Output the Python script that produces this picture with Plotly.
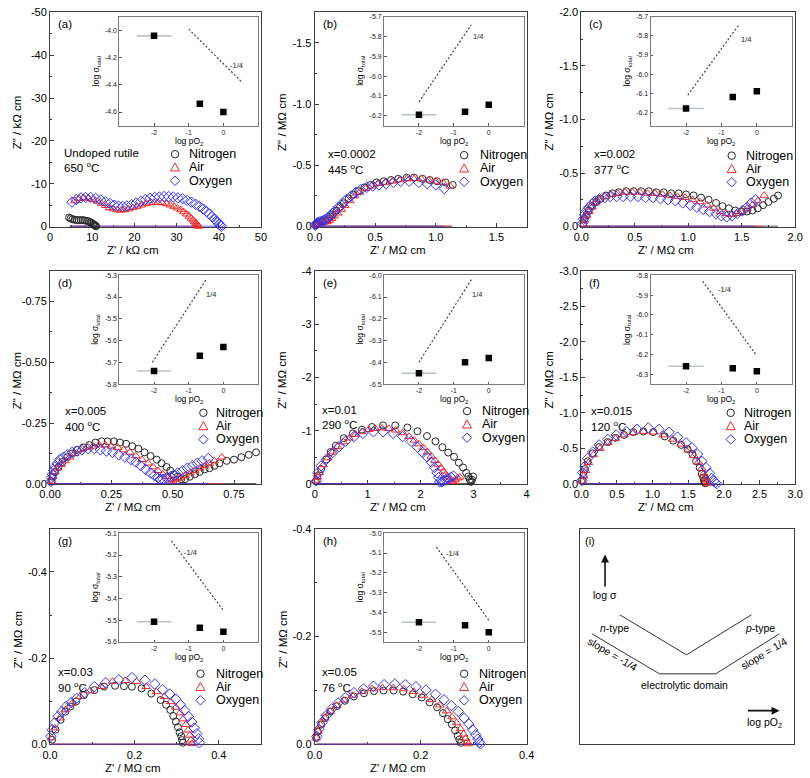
import math
import plotly.graph_objects as go

W, H = 810, 778
FONT = "Liberation Sans, Arial, Helvetica, sans-serif"

# ---------------- impedance data: Z' (x) and Z'' (y) ----------------
A_N_X = [4.5, 4.9, 5.3, 5.8, 6.3, 6.8, 7.3, 7.8, 8.3, 8.8, 9.2, 9.6, 9.9, 10.2, 10.4, 10.6, 10.8, 10.9]
A_N_Y = [-2.1, -1.9, -1.7, -1.6, -1.5, -1.5, -1.5, -1.5, -1.4, -1.3, -1.2, -1.0, -0.8, -0.6, -0.45, -0.3, -0.15, -0.05]
A_AIR_X = [5.9, 6.9, 8.0, 9.1, 10.2, 11.2, 12.2, 13.2, 14.1, 15.0, 15.9, 16.8, 17.7, 18.6, 19.6, 20.6, 21.6, 22.6, 23.6,
           24.6, 25.6, 26.6, 27.6, 28.5, 29.4, 30.2, 31.0, 31.7, 32.4, 33.0, 33.5, 33.9, 34.3, 34.6, 34.8, 35.0, 35.1, 35.2]
A_AIR_Y = [-6.0, -6.5, -6.7, -6.6, -6.3, -5.9, -5.4, -4.9, -4.4, -4.1, -3.9, -3.8, -3.9, -4.1, -4.4, -4.7, -5.0, -5.3, -5.5,
           -5.6, -5.6, -5.5, -5.3, -5.0, -4.7, -4.3, -3.9, -3.4, -2.9, -2.4, -1.9, -1.5, -1.1, -0.8, -0.5, -0.3, -0.15, -0.05]
A_OX_X = [5.2, 6.2, 7.3, 8.4, 9.6, 10.8, 12.0, 13.1, 14.2, 15.2, 16.2, 17.2, 18.2, 19.3, 20.4, 21.5, 22.6, 23.7, 24.8, 25.9,
          27.0, 28.1, 29.2, 30.3, 31.4, 32.5, 33.5, 34.5, 35.4, 36.3, 37.1, 37.8, 38.4, 38.9, 39.4, 39.8, 40.1, 40.4, 40.6]
A_OX_Y = [-5.7, -6.3, -6.7, -6.8, -6.8, -6.6, -6.2, -5.8, -5.4, -5.0, -4.8, -4.7, -4.8, -5.1, -5.5, -5.9, -6.3, -6.6, -6.8, -6.9,
          -7.0, -7.0, -6.9, -6.7, -6.5, -6.1, -5.7, -5.2, -4.7, -4.1, -3.5, -2.9, -2.3, -1.8, -1.3, -0.9, -0.5, -0.25, -0.05]

B_N_X = [0.01, 0.02, 0.03, 0.05, 0.07, 0.09, 0.11, 0.13, 0.15, 0.18, 0.21, 0.24, 0.28, 0.32, 0.36, 0.41, 0.46, 0.51, 0.57,
         0.63, 0.69, 0.76, 0.82, 0.89, 0.95, 1.01, 1.08, 1.14]
B_N_Y = [-0.01, -0.02, -0.03, -0.035, -0.04, -0.05, -0.06, -0.08, -0.10, -0.13, -0.16, -0.19, -0.23, -0.26, -0.29, -0.32,
         -0.34, -0.36, -0.37, -0.38, -0.39, -0.40, -0.40, -0.39, -0.38, -0.37, -0.36, -0.34]
B_AIR_X = [0.01, 0.02, 0.04, 0.06, 0.08, 0.10, 0.12, 0.14, 0.16, 0.19, 0.22, 0.25, 0.29, 0.33, 0.37, 0.42, 0.47, 0.52, 0.58,
           0.64, 0.70, 0.76, 0.82, 0.88, 0.94, 1.00, 1.06, 1.12]
B_AIR_Y = [-0.01, -0.02, -0.025, -0.03, -0.035, -0.04, -0.05, -0.065, -0.085, -0.11, -0.14, -0.17, -0.21, -0.25, -0.28,
           -0.31, -0.33, -0.35, -0.36, -0.37, -0.38, -0.39, -0.39, -0.39, -0.38, -0.37, -0.36, -0.33]
B_OX_X = [0.005, 0.01, 0.02, 0.03, 0.045, 0.06, 0.075, 0.09, 0.11, 0.13, 0.15, 0.17, 0.20, 0.23, 0.26, 0.30, 0.34, 0.38,
          0.43, 0.48, 0.53, 0.59, 0.65, 0.71, 0.78, 0.86, 0.93, 1.00, 1.07]
B_OX_Y = [-0.01, -0.02, -0.03, -0.035, -0.04, -0.045, -0.05, -0.06, -0.075, -0.09, -0.11, -0.13, -0.16, -0.19, -0.22,
          -0.25, -0.28, -0.30, -0.32, -0.33, -0.34, -0.35, -0.36, -0.37, -0.37, -0.36, -0.35, -0.34, -0.31]

C_N_X = [0.02, 0.03, 0.05, 0.07, 0.10, 0.14, 0.18, 0.23, 0.29, 0.35, 0.42, 0.49, 0.56, 0.63, 0.70, 0.77, 0.84, 0.91, 0.98,
         1.05, 1.12, 1.19, 1.26, 1.32, 1.38, 1.44, 1.50, 1.55, 1.60, 1.65, 1.70, 1.75, 1.80, 1.84]
C_N_Y = [-0.03, -0.07, -0.11, -0.15, -0.19, -0.23, -0.26, -0.29, -0.31, -0.32, -0.33, -0.33, -0.33, -0.33, -0.32, -0.32,
         -0.31, -0.31, -0.30, -0.29, -0.27, -0.25, -0.22, -0.19, -0.17, -0.15, -0.14, -0.14, -0.15, -0.17, -0.20, -0.23,
         -0.26, -0.29]
C_AIR_X = [0.02, 0.03, 0.05, 0.07, 0.10, 0.13, 0.17, 0.22, 0.28, 0.34, 0.41, 0.48, 0.55, 0.62, 0.69, 0.76, 0.83, 0.90,
           0.97, 1.04, 1.11, 1.18, 1.24, 1.30, 1.35, 1.40, 1.45, 1.50, 1.55, 1.60, 1.65, 1.71]
C_AIR_Y = [-0.02, -0.06, -0.10, -0.14, -0.18, -0.22, -0.25, -0.28, -0.30, -0.31, -0.32, -0.32, -0.32, -0.31, -0.31, -0.30,
           -0.29, -0.28, -0.27, -0.25, -0.23, -0.20, -0.17, -0.14, -0.12, -0.11, -0.12, -0.14, -0.17, -0.20, -0.24, -0.29]
C_OX_X = [0.01, 0.02, 0.03, 0.05, 0.07, 0.10, 0.13, 0.17, 0.22, 0.27, 0.33, 0.39, 0.46, 0.53, 0.60, 0.67, 0.74, 0.81,
          0.88, 0.95, 1.02, 1.08, 1.14, 1.20, 1.26, 1.31, 1.36, 1.41, 1.46, 1.51, 1.55, 1.59, 1.63]
C_OX_Y = [-0.03, -0.07, -0.11, -0.15, -0.18, -0.21, -0.24, -0.26, -0.27, -0.28, -0.28, -0.28, -0.28, -0.28, -0.27, -0.27,
          -0.26, -0.25, -0.24, -0.22, -0.20, -0.18, -0.16, -0.14, -0.12, -0.10, -0.09, -0.10, -0.12, -0.15, -0.18, -0.22,
          -0.25]

D_N_X = [0.005, 0.01, 0.02, 0.035, 0.05, 0.07, 0.09, 0.11, 0.135, 0.16, 0.185, 0.21, 0.235, 0.26, 0.285, 0.31, 0.335,
         0.36, 0.385, 0.41, 0.435, 0.455, 0.475, 0.49, 0.505, 0.52, 0.535, 0.55, 0.57, 0.59, 0.61, 0.63, 0.65, 0.67,
         0.69, 0.72, 0.75, 0.78, 0.81, 0.84]
D_N_Y = [-0.01, -0.03, -0.05, -0.07, -0.09, -0.11, -0.125, -0.14, -0.15, -0.16, -0.17, -0.175, -0.175, -0.175, -0.17,
         -0.165, -0.155, -0.145, -0.13, -0.115, -0.10, -0.085, -0.07, -0.055, -0.04, -0.03, -0.02, -0.02, -0.03, -0.04,
         -0.05, -0.06, -0.065, -0.075, -0.085, -0.095, -0.10, -0.11, -0.12, -0.13]
D_AIR_X = [0.005, 0.01, 0.02, 0.03, 0.045, 0.06, 0.08, 0.10, 0.125, 0.15, 0.175, 0.20, 0.225, 0.25, 0.275, 0.30, 0.325,
           0.35, 0.375, 0.40, 0.42, 0.44, 0.46, 0.475, 0.49, 0.50, 0.515, 0.53, 0.55, 0.57, 0.59, 0.61, 0.63, 0.65,
           0.67, 0.70]
D_AIR_Y = [-0.01, -0.03, -0.05, -0.065, -0.08, -0.095, -0.11, -0.125, -0.14, -0.15, -0.155, -0.16, -0.16, -0.155,
           -0.15, -0.14, -0.13, -0.115, -0.10, -0.085, -0.07, -0.055, -0.04, -0.03, -0.02, -0.015, -0.02, -0.025,
           -0.035, -0.045, -0.055, -0.065, -0.075, -0.085, -0.095, -0.11]
D_OX_X = [0.003, 0.006, 0.01, 0.015, 0.02, 0.03, 0.04, 0.055, 0.07, 0.09, 0.11, 0.13, 0.155, 0.18, 0.205, 0.23, 0.255,
          0.28, 0.305, 0.33, 0.35, 0.37, 0.39, 0.41, 0.425, 0.44, 0.45, 0.46, 0.475, 0.49, 0.505, 0.52, 0.54, 0.56,
          0.58, 0.60, 0.62, 0.645]
D_OX_Y = [-0.01, -0.025, -0.04, -0.055, -0.07, -0.085, -0.10, -0.11, -0.12, -0.13, -0.135, -0.14, -0.145, -0.145,
          -0.14, -0.135, -0.13, -0.12, -0.11, -0.10, -0.09, -0.075, -0.06, -0.045, -0.035, -0.025, -0.02, -0.02, -0.025,
          -0.03, -0.035, -0.045, -0.055, -0.065, -0.075, -0.085, -0.095, -0.105]

E_N_X = [0.02, 0.05, 0.12, 0.22, 0.30, 0.40, 0.55, 0.72, 0.89, 1.08, 1.29, 1.52, 1.75, 1.94, 2.12, 2.28, 2.41, 2.52,
         2.63, 2.72, 2.80, 2.86, 2.90, 2.93, 2.95, 2.97, 2.99]
E_N_Y = [-0.05, -0.15, -0.28, -0.46, -0.60, -0.72, -0.86, -0.95, -1.02, -1.07, -1.10, -1.10, -1.06, -0.99, -0.90, -0.80,
         -0.69, -0.59, -0.51, -0.40, -0.31, -0.21, -0.14, -0.08, -0.04, -0.08, -0.14]
E_AIR_X = [0.02, 0.05, 0.09, 0.16, 0.25, 0.34, 0.43, 0.54, 0.65, 0.77, 0.89, 1.02, 1.14, 1.27, 1.40, 1.53, 1.66, 1.78,
           1.88, 1.97, 2.05, 2.13, 2.20, 2.27, 2.33, 2.38, 2.43, 2.47, 2.51, 2.54, 2.57, 2.60, 2.65, 2.70, 2.74]
E_AIR_Y = [-0.06, -0.13, -0.21, -0.36, -0.49, -0.60, -0.70, -0.79, -0.86, -0.93, -0.98, -1.02, -1.04, -1.05, -1.04,
           -1.01, -0.96, -0.89, -0.82, -0.75, -0.68, -0.60, -0.52, -0.44, -0.37, -0.30, -0.24, -0.18, -0.13, -0.08,
           -0.05, -0.05, -0.08, -0.11, -0.13]
E_OX_X = [0.03, 0.06, 0.12, 0.22, 0.34, 0.46, 0.58, 0.74, 0.91, 1.11, 1.29, 1.48, 1.66, 1.82, 1.94, 2.04, 2.12, 2.20,
          2.26, 2.31, 2.34, 2.36, 2.40, 2.43, 2.47, 2.52, 2.57, 2.62]
E_OX_Y = [-0.06, -0.21, -0.34, -0.46, -0.59, -0.70, -0.80, -0.89, -0.95, -0.98, -0.98, -0.95, -0.89, -0.80, -0.69,
          -0.59, -0.51, -0.41, -0.31, -0.21, -0.12, -0.04, -0.04, -0.06, -0.08, -0.10, -0.13, -0.15]

F_N_X = [0.01, 0.03, 0.05, 0.09, 0.16, 0.25, 0.37, 0.48, 0.60, 0.73, 0.87, 1.01, 1.17, 1.29, 1.40, 1.49, 1.56, 1.61,
         1.66, 1.69, 1.71, 1.72, 1.73, 1.74]
F_N_Y = [-0.05, -0.12, -0.21, -0.32, -0.43, -0.52, -0.59, -0.65, -0.69, -0.73, -0.74, -0.73, -0.67, -0.61, -0.55, -0.49,
         -0.42, -0.32, -0.23, -0.14, -0.09, -0.05, -0.03, -0.01]
F_AIR_X = [0.01, 0.03, 0.06, 0.10, 0.17, 0.26, 0.37, 0.48, 0.60, 0.73, 0.87, 1.01, 1.15, 1.28, 1.40, 1.50, 1.58, 1.64,
           1.69, 1.72, 1.74, 1.76, 1.77, 1.78]
F_AIR_Y = [-0.04, -0.11, -0.19, -0.30, -0.41, -0.50, -0.58, -0.64, -0.69, -0.72, -0.74, -0.73, -0.69, -0.63, -0.56,
           -0.48, -0.40, -0.31, -0.22, -0.15, -0.10, -0.06, -0.03, -0.01]
F_OX_X = [0.01, 0.02, 0.05, 0.09, 0.16, 0.25, 0.37, 0.49, 0.63, 0.78, 0.94, 1.09, 1.23, 1.35, 1.47, 1.55, 1.63, 1.69,
          1.75, 1.80, 1.83, 1.86, 1.88, 1.90]
F_OX_Y = [-0.05, -0.16, -0.25, -0.36, -0.45, -0.55, -0.63, -0.69, -0.74, -0.77, -0.79, -0.77, -0.73, -0.66, -0.58,
          -0.51, -0.42, -0.32, -0.23, -0.15, -0.08, -0.04, -0.02, -0.005]

G_N_X = [0.005, 0.013, 0.025, 0.036, 0.048, 0.062, 0.080, 0.105, 0.128, 0.154, 0.175, 0.194, 0.217, 0.240, 0.262,
         0.275, 0.285, 0.292, 0.298, 0.303, 0.307, 0.311, 0.313, 0.315]
G_N_Y = [-0.011, -0.034, -0.057, -0.076, -0.088, -0.100, -0.114, -0.126, -0.134, -0.136, -0.135, -0.134, -0.130,
         -0.118, -0.103, -0.092, -0.080, -0.066, -0.053, -0.040, -0.028, -0.019, -0.010, -0.004]
G_AIR_X = [0.003, 0.011, 0.023, 0.036, 0.052, 0.071, 0.094, 0.121, 0.148, 0.178, 0.205, 0.228, 0.252, 0.271, 0.286,
           0.298, 0.308, 0.315, 0.322, 0.327, 0.331, 0.334, 0.336]
G_AIR_Y = [-0.015, -0.038, -0.061, -0.080, -0.095, -0.111, -0.124, -0.134, -0.146, -0.148, -0.146, -0.134, -0.122,
           -0.111, -0.099, -0.086, -0.073, -0.059, -0.046, -0.033, -0.021, -0.010, -0.002]
G_OX_X = [0.002, 0.005, 0.011, 0.019, 0.028, 0.038, 0.050, 0.063, 0.082, 0.105, 0.132, 0.163, 0.194, 0.225, 0.248,
          0.267, 0.284, 0.298, 0.309, 0.319, 0.328, 0.336, 0.342, 0.348, 0.352, 0.354]
G_OX_Y = [-0.019, -0.034, -0.050, -0.065, -0.076, -0.088, -0.097, -0.107, -0.120, -0.134, -0.143, -0.150, -0.155,
          -0.149, -0.140, -0.127, -0.117, -0.105, -0.092, -0.079, -0.065, -0.052, -0.038, -0.025, -0.013, -0.004]

H_N_X = [0.003, 0.006, 0.012, 0.020, 0.030, 0.042, 0.057, 0.074, 0.093, 0.112, 0.130, 0.149, 0.167, 0.185, 0.202,
         0.217, 0.231, 0.242, 0.251, 0.259, 0.265, 0.270, 0.273, 0.276]
H_N_Y = [-0.012, -0.024, -0.037, -0.049, -0.061, -0.071, -0.081, -0.089, -0.095, -0.099, -0.100, -0.100, -0.098,
         -0.093, -0.087, -0.078, -0.069, -0.058, -0.047, -0.037, -0.026, -0.016, -0.009, -0.003]
H_AIR_X = [0.003, 0.006, 0.011, 0.019, 0.029, 0.041, 0.055, 0.071, 0.089, 0.108, 0.128, 0.148, 0.168, 0.187, 0.205,
           0.221, 0.236, 0.249, 0.259, 0.268, 0.275, 0.281, 0.285, 0.288, 0.290]
H_AIR_Y = [-0.012, -0.024, -0.036, -0.049, -0.061, -0.072, -0.082, -0.091, -0.098, -0.103, -0.105, -0.105, -0.103,
           -0.098, -0.091, -0.083, -0.073, -0.062, -0.051, -0.040, -0.029, -0.019, -0.011, -0.005, -0.001]
H_OX_X = [0.004, 0.008, 0.014, 0.022, 0.032, 0.044, 0.058, 0.074, 0.092, 0.111, 0.131, 0.151, 0.171, 0.191, 0.210,
          0.228, 0.244, 0.258, 0.271, 0.282, 0.291, 0.298, 0.304, 0.308, 0.311, 0.313]
H_OX_Y = [-0.015, -0.028, -0.041, -0.054, -0.066, -0.077, -0.087, -0.096, -0.103, -0.108, -0.111, -0.112, -0.111,
          -0.107, -0.101, -0.093, -0.083, -0.072, -0.061, -0.049, -0.038, -0.027, -0.018, -0.010, -0.004, -0.001]

# ---------------- inset data: log sigma_total vs log pO2 ----------------
LOG_PO2 = [-2.0, -0.68, 0.0]
LOG_PO2_ERR = [0.5, 0.0, 0.0]
A_LOGSIG = [-4.04, -4.54, -4.60]
B_LOGSIG = [-6.195, -6.18, -6.145]
C_LOGSIG = [-6.18, -6.12, -6.09]
D_LOGSIG = [-5.74, -5.67, -5.63]
E_LOGSIG = [-6.45, -6.40, -6.38]
F_LOGSIG = [-6.26, -6.27, -6.285]
G_LOGSIG = [-5.507, -5.534, -5.553]
H_LOGSIG = [-5.45, -5.465, -5.50]
A_GUIDE_X, A_GUIDE_Y = [-1.0, 0.53], [-3.99, -4.38]
B_GUIDE_X, B_GUIDE_Y = [-2.0, -0.5], [-6.13, -5.74]
C_GUIDE_X, C_GUIDE_Y = [-1.95, -0.5], [-6.11, -5.74]
D_GUIDE_X, D_GUIDE_Y = [-2.05, -0.5], [-5.70, -5.32]
E_GUIDE_X, E_GUIDE_Y = [-2.0, -0.5], [-6.40, -6.02]
F_GUIDE_X, F_GUIDE_Y = [-1.53, -0.03], [-5.83, -6.20]
G_GUIDE_X, G_GUIDE_Y = [-1.5, 0.0], [-5.135, -5.455]
H_GUIDE_X, H_GUIDE_Y = [-1.5, 0.0], [-5.07, -5.44]

SERIES_NAMES = ["Nitrogen", "Air", "Oxygen"]

# ---------------- styling ----------------
COLORS = ["#262626", "#ee2a2a", "#3434ee"]
SYMBOLS = ["circle-open", "triangle-up-open", "diamond-open"]
SIZES = [7, 7.5, 8]
AXC = "#3c3c3c"
INC = "#7a7a7a"

COLS = [(40, 256), (311, 528), (584, 803)]
ROWS = [(6.5, 224), (269, 485.5), (531, 750)]

PANELS = [
    dict(lab="(a)", col=0, row=0, cond=["Undoped rutile", "650 <sup>o</sup>C"], unit="kΩ cm",
         xmax=50, ymax=50, dt=10, mdt=5, dec=0,
         data=[(A_N_X, A_N_Y), (A_AIR_X, A_AIR_Y), (A_OX_X, A_OX_Y)],
         sig=A_LOGSIG, gx=A_GUIDE_X, gy=A_GUIDE_Y, glab="-1/4", glxy=(0.38, -4.26),
         iyr=(-4.7, -3.9), idt=0.2, cx=12, cy=142.5, lmx=128, ltx=140, ly=142.5),
    dict(lab="(b)", col=1, row=0, cond=["x=0.0002", "445 <sup>o</sup>C"], unit="MΩ cm",
         xmax=1.75, ymax=1.75, dt=0.5, mdt=0.25, dec=1,
         data=[(B_N_X, B_N_Y), (B_AIR_X, B_AIR_Y), (B_OX_X, B_OX_Y)],
         sig=B_LOGSIG, gx=B_GUIDE_X, gy=B_GUIDE_Y, glab="1/4", glxy=(-0.3, -5.80),
         iyr=(-6.25, -5.7), idt=0.1, cx=12, cy=144, lmx=153, ltx=167, ly=143.5),
    dict(lab="(c)", col=2, row=0, cond=["x=0.002", "377 <sup>o</sup>C"], unit="MΩ cm",
         xmax=2.0, ymax=2.0, dt=0.5, mdt=0.25, dec=1,
         data=[(C_N_X, C_N_Y), (C_AIR_X, C_AIR_Y), (C_OX_X, C_OX_Y)],
         sig=C_LOGSIG, gx=C_GUIDE_X, gy=C_GUIDE_Y, glab="1/4", glxy=(-0.3, -5.82),
         iyr=(-6.27, -5.7), idt=0.1, cx=11, cy=144, lmx=154, ltx=167, ly=144),
    dict(lab="(d)", col=0, row=1, cond=["x=0.005", "400 <sup>o</sup>C"], unit="MΩ cm",
         xmax=0.86, ymax=0.875, dt=0.25, mdt=0.125, dec=2,
         data=[(D_N_X, D_N_Y), (D_AIR_X, D_AIR_Y), (D_OX_X, D_OX_Y)],
         sig=D_LOGSIG, gx=D_GUIDE_X, gy=D_GUIDE_Y, glab="1/4", glxy=(-0.35, -5.39),
         iyr=(-5.8, -5.3), idt=0.1, cx=13, cy=142.7, lmx=157, ltx=168, ly=142.7),
    dict(lab="(e)", col=1, row=1, cond=["x=0.01", "290 <sup>o</sup>C"], unit="MΩ cm",
         xmax=4, ymax=4, dt=1, mdt=0.5, dec=0,
         data=[(E_N_X, E_N_Y), (E_AIR_X, E_AIR_Y), (E_OX_X, E_OX_Y)],
         sig=E_LOGSIG, gx=E_GUIDE_X, gy=E_GUIDE_Y, glab="1/4", glxy=(-0.35, -6.09),
         iyr=(-6.5, -6.0), idt=0.1, cx=5, cy=141, lmx=156, ltx=169, ly=141),
    dict(lab="(f)", col=2, row=1, cond=["x=0.015", "120 <sup>o</sup>C"], unit="MΩ cm",
         xmax=3, ymax=3, dt=0.5, mdt=0.25, dec=1,
         data=[(F_N_X, F_N_Y), (F_AIR_X, F_AIR_Y), (F_OX_X, F_OX_Y)],
         sig=F_LOGSIG, gx=F_GUIDE_X, gy=F_GUIDE_Y, glab="-1/4", glxy=(-0.9, -5.87),
         iyr=(-6.35, -5.8), idt=0.1, cx=8, cy=142.7, lmx=153, ltx=164.5, ly=142.7),
    dict(lab="(g)", col=0, row=2, cond=["x=0.03", "90 <sup>o</sup>C"], unit="MΩ cm",
         xmax=0.5, ymax=0.5, dt=0.2, mdt=0.1, dec=1,
         data=[(G_N_X, G_N_Y), (G_AIR_X, G_AIR_Y), (G_OX_X, G_OX_Y)],
         sig=G_LOGSIG, gx=G_GUIDE_X, gy=G_GUIDE_Y, glab="-1/4", glxy=(-0.95, -5.19),
         iyr=(-5.6, -5.1), idt=0.1, cx=6, cy=145.7, lmx=154, ltx=167.5, ly=145.7),
    dict(lab="(h)", col=1, row=2, cond=["x=0.05", "76 <sup>o</sup>C"], unit="MΩ cm",
         xmax=0.4, ymax=0.4, dt=0.2, mdt=0.1, dec=1,
         data=[(H_N_X, H_N_Y), (H_AIR_X, H_AIR_Y), (H_OX_X, H_OX_Y)],
         sig=H_LOGSIG, gx=H_GUIDE_X, gy=H_GUIDE_Y, glab="-1/4", glxy=(-1.05, -5.10),
         iyr=(-5.55, -5.0), idt=0.1, cx=5, cy=145.7, lmx=153, ltx=166.5, ly=145.7),
]


def fx(px):
    return px / W


def fy(py):
    return 1 - py / H


def aid(n):
    return "" if n == 1 else str(n)


def main_ticks(maxv, dt, dec, sign):
    vals, txt = [], []
    k = 0
    while k * dt <= maxv + 1e-9:
        v = round(sign * k * dt, 6)
        vals.append(v)
        s = f"{abs(v):.{dec}f}"
        txt.append(("-" + s) if v < 0 else s)
        k += 1
    return vals, txt


def range_ticks(lo, hi, dt):
    k0 = math.ceil(lo / dt - 1e-9)
    k1 = math.floor(hi / dt + 1e-9)
    vals = [round(k * dt, 6) for k in range(k0, k1 + 1)]
    return vals, [f"{v:.1f}" for v in vals]


fig = go.Figure()
layout = dict(width=W, height=H, autosize=False, margin=dict(l=0, r=0, t=0, b=0, pad=0),
              paper_bgcolor="white", plot_bgcolor="white", showlegend=False,
              font=dict(family=FONT, color="black"))
ann, shp = [], []

for i, p in enumerate(PANELS):
    n, m = 2 * i + 1, 2 * i + 2
    cl, cr = COLS[p["col"]]
    rt, rb = ROWS[p["row"]]
    xv, xt = main_ticks(p["xmax"], p["dt"], p["dec"], 1)
    yv, yt = main_ticks(p["ymax"], p["dt"], p["dec"], -1)
    common = dict(ticks="inside", ticklen=4, tickwidth=1, tickcolor=AXC, showline=True, linecolor=AXC,
                  linewidth=1, mirror=True, showgrid=False, zeroline=False, layer="below traces",
                  tickfont=dict(size=11, family=FONT, color="black"), tickmode="array")
    layout["xaxis" + aid(n)] = dict(domain=[fx(cl), fx(cr)], anchor="y" + aid(n), range=[0, p["xmax"]],
                                    tickvals=xv, ticktext=xt,
                                    minor=dict(ticks="inside", ticklen=2, tickcolor=AXC, tickmode="linear",
                                               tick0=0, dtick=p["mdt"]), **common)
    layout["yaxis" + aid(n)] = dict(domain=[fy(rb), fy(rt)], anchor="x" + aid(n), range=[0, -p["ymax"]],
                                    tickvals=yv, ticktext=yt,
                                    minor=dict(ticks="inside", ticklen=2, tickcolor=AXC, tickmode="linear",
                                               tick0=0, dtick=p["mdt"]), **common)

    for j, (xs, ys) in enumerate(p["data"]):
        fig.add_trace(go.Scatter(x=[min(xs), max(xs)], y=[0, 0], mode="lines",
                                 line=dict(color=COLORS[j], width=1.4), cliponaxis=False,
                                 xaxis="x" + aid(n), yaxis="y" + aid(n), hoverinfo="skip"))
    for j, (xs, ys) in enumerate(p["data"]):
        fig.add_trace(go.Scatter(x=xs, y=ys, mode="markers", name=SERIES_NAMES[j], cliponaxis=False,
                                 marker=dict(symbol=SYMBOLS[j], size=SIZES[j], color=COLORS[j],
                                             line=dict(width=1, color=COLORS[j])),
                                 xaxis="x" + aid(n), yaxis="y" + aid(n)))

    # inset
    il, ir = cl + 71, cr - 3
    it, ib = rt + 4.5, rt + 115
    iv, itx = range_ticks(p["iyr"][0], p["iyr"][1], p["idt"])
    icommon = dict(ticks="inside", ticklen=2.5, tickwidth=0.8, tickcolor="#555", showline=True, linecolor=INC,
                   linewidth=1, mirror=True, showgrid=False, zeroline=False, tickmode="array",
                   tickfont=dict(size=7, family=FONT, color="#222"))
    layout["xaxis" + aid(m)] = dict(domain=[fx(il), fx(ir)], anchor="y" + aid(m), range=[-3, 1],
                                    tickvals=[-2, -1, 0], ticktext=["-2", "-1", "0"], **icommon)
    layout["yaxis" + aid(m)] = dict(domain=[fy(ib), fy(it)], anchor="x" + aid(m), range=list(p["iyr"]),
                                    tickvals=iv, ticktext=itx, **icommon)
    fig.add_trace(go.Scatter(x=p["gx"], y=p["gy"], mode="lines",
                             line=dict(color="#333", width=1.1, dash="2px,2px"),
                             xaxis="x" + aid(m), yaxis="y" + aid(m), hoverinfo="skip"))
    fig.add_trace(go.Scatter(x=LOG_PO2, y=p["sig"], mode="markers",
                             marker=dict(symbol="square", size=6.5, color="black"),
                             error_x=dict(type="data", array=LOG_PO2_ERR, color="#b9c3c9", thickness=1.6, width=0),
                             xaxis="x" + aid(m), yaxis="y" + aid(m)))
    ann.append(dict(text=p["glab"], x=p["glxy"][0], y=p["glxy"][1], xref="x" + aid(m), yref="y" + aid(m),
                    showarrow=False, font=dict(size=7.5, color="#222"), xanchor="center", yanchor="middle"))
    ann.append(dict(text="log σ<sub>total</sub>", x=fx(il - 24), y=fy((it + ib) / 2), xref="paper", yref="paper",
                    showarrow=False, textangle=-90, font=dict(size=8.5), xanchor="center", yanchor="middle"))
    ann.append(dict(text="log pO<sub>2</sub>", x=fx((il + ir) / 2), y=fy(ib + 16), xref="paper", yref="paper",
                    showarrow=False, font=dict(size=8.5), xanchor="center", yanchor="middle"))

    # labels
    ann.append(dict(text=p["lab"], x=fx(cl + 6), y=fy(rt + 12), xref="paper", yref="paper", showarrow=False,
                    font=dict(size=11.5), xanchor="left", yanchor="middle"))
    for k, line in enumerate(p["cond"]):
        ann.append(dict(text=line, x=fx(cl + p["cx"]), y=fy(rt + p["cy"] + 15 * k), xref="paper", yref="paper",
                        showarrow=False, font=dict(size=11.5), xanchor="left", yanchor="middle"))
    ann.append(dict(text="Z' / " + p["unit"], x=fx((cl + cr) / 2 - 23), y=fy(rb + 23.5), xref="paper",
                    yref="paper", showarrow=False, font=dict(size=11.5), xanchor="center", yanchor="middle"))
    ann.append(dict(text='Z" / ' + p["unit"], x=fx(cl - 33), y=fy((rt + rb) / 2 + 3), xref="paper",
                    yref="paper", showarrow=False, textangle=-90, font=dict(size=11.5),
                    xanchor="center", yanchor="middle"))

    # legend (swatches + names)
    for k, name in enumerate(SERIES_NAMES):
        mx, my = cl + p["lmx"], rt + p["ly"] + 1.5 + 13.5 * k
        ann.append(dict(text=name, x=fx(cl + p["ltx"]), y=fy(my), xref="paper", yref="paper", showarrow=False,
                        font=dict(size=12.5), xanchor="left", yanchor="middle"))
        if k == 0:
            r = 3.8
            shp.append(dict(type="circle", xref="paper", yref="paper", x0=fx(mx - r), x1=fx(mx + r),
                            y0=fy(my + r), y1=fy(my - r), line=dict(color=COLORS[0], width=1)))
        elif k == 1:
            pts = [(mx, my - 4.6), (mx + 4.6, my + 3.6), (mx - 4.6, my + 3.6)]
            path = "M " + " L ".join(f"{fx(a):.5f},{fy(b):.5f}" for a, b in pts) + " Z"
            shp.append(dict(type="path", xref="paper", yref="paper", path=path,
                            line=dict(color=COLORS[1], width=1)))
        else:
            pts = [(mx, my - 4.8), (mx + 4.8, my), (mx, my + 4.8), (mx - 4.8, my)]
            path = "M " + " L ".join(f"{fx(a):.5f},{fy(b):.5f}" for a, b in pts) + " Z"
            shp.append(dict(type="path", xref="paper", yref="paper", path=path,
                            line=dict(color=COLORS[2], width=1)))

# ---------------- panel (i): schematic ----------------
IL, IR, IT, IB = 583, 802, 531, 750
layout["xaxis17"] = dict(domain=[fx(IL), fx(IR)], anchor="y17", range=[IL, IR], showline=True, mirror=True,
                         linecolor=AXC, linewidth=1, showticklabels=False, ticks="", showgrid=False, zeroline=False)
layout["yaxis17"] = dict(domain=[fy(IB), fy(IT)], anchor="x17", range=[IB, IT], showline=True, mirror=True,
                         linecolor=AXC, linewidth=1, showticklabels=False, ticks="", showgrid=False, zeroline=False)
SCH = dict(xref="x17", yref="y17", line=dict(color="#333", width=1))
shp.append(dict(type="path", path="M 623.3,618.3 L 691.7,659 L 758.3,618.3", **SCH))
shp.append(dict(type="path", path="M 595,637.7 L 664,678.3 L 721.7,678.3 L 786.7,637.7", **SCH))
ann += [
    dict(text="(i)", x=586, y=543.5, xref="x17", yref="y17", showarrow=False, xanchor="left",
         font=dict(size=11)),
    dict(text="", x=608.3, y=557, ax=608.3, ay=591, xref="x17", yref="y17", axref="x17", ayref="y17",
         showarrow=True, arrowhead=2, arrowsize=1, arrowwidth=1.6, arrowcolor="#111"),
    dict(text="log σ", x=608.5, y=598, xref="x17", yref="y17", showarrow=False, font=dict(size=10.5)),
    dict(text="<i>n</i>-type", x=618.5, y=632, xref="x17", yref="y17", showarrow=False, font=dict(size=10.5)),
    dict(text="<i>p</i>-type", x=767, y=632, xref="x17", yref="y17", showarrow=False, font=dict(size=10.5)),
    dict(text="slope = -1/4", x=616, y=658, xref="x17", yref="y17", showarrow=False, textangle=30.5,
         font=dict(size=10.5)),
    dict(text="slope = 1/4", x=771.5, y=657.5, xref="x17", yref="y17", showarrow=False, textangle=-31,
         font=dict(size=10.5)),
    dict(text="electrolytic domain", x=689.5, y=690, xref="x17", yref="y17", showarrow=False,
         font=dict(size=10.5)),
    dict(text="", x=787, y=715.7, ax=753, ay=715.7, xref="x17", yref="y17", axref="x17", ayref="y17",
         showarrow=True, arrowhead=2, arrowsize=1, arrowwidth=1.6, arrowcolor="#111"),
    dict(text="log pO<sub>2</sub>", x=772, y=728.5, xref="x17", yref="y17", showarrow=False,
         font=dict(size=10.5)),
]

layout["annotations"] = ann
layout["shapes"] = shp
fig.update_layout(layout)
fig.write_html(
    "out.html",
    config={"displayModeBar": False, "responsive": False},
    post_script=("document.documentElement.style.margin='0';document.documentElement.style.padding='0';"
                 "document.body.style.margin='0';document.body.style.padding='0';"
                 "document.body.style.overflow='hidden';window.scrollTo(0,0);"),
)
